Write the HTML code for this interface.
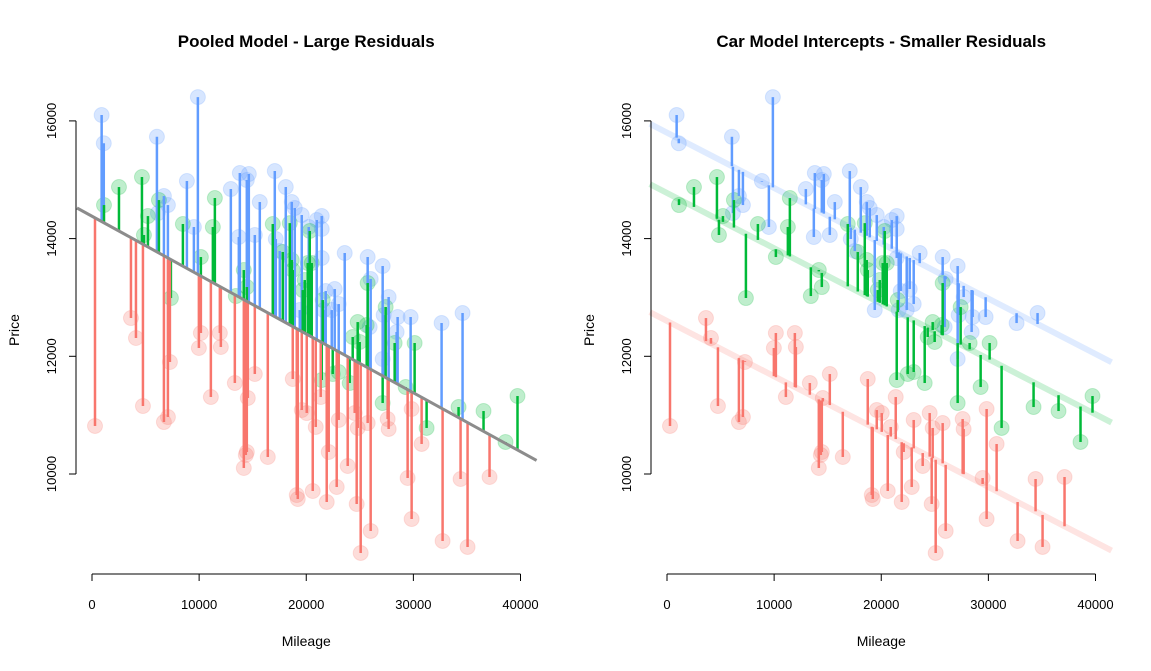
<!DOCTYPE html>
<html><head><meta charset="utf-8"><style>
body{margin:0;background:#fff;}
svg{display:block;font-family:"Liberation Sans",Arial,sans-serif;}
</style></head><body>
<svg id="chart" width="1151" height="671" viewBox="0 0 1151 671"></svg>
<script>
const blueMileage=[900,1100,6060,9883,8858,13800,14639,14452,12960,17063,18089,15664,18648,18928,19580,6713,7086,6154,9510,13706,15198,17156,17529,19394,20979,21445,21445,20233,21445,23590,25734,27133,26014,22657,21818,23030,27692,28531,29744,32634,34592,21631,22378,27226,25921,27133,28438];
const bluePrice=[16100,15620,15730,16405,14978,15114,15097,14995,14842,15148,14876,14621,14621,14519,14400,14723,14570,14434,14197,14027,14061,13993,13789,12786,14315,14383,14163,14197,13670,13755,13687,13534,13313,13143,13109,12888,13007,12667,12667,12565,12735,12786,12786,12701,12497,11954,12413];
const greenMileage=[1119,2517,4662,5221,4849,6247,11469,11282,8485,10163,7366,16876,18462,17809,18648,14172,14452,13427,18741,19674,20140,20326,20513,19860,25734,27413,24802,25641,21538,24336,24988,23030,24056,21445,27133,28252,30117,29278,31235,34219,36550,38601,39720,22471];
const greenPrice=[14570,14876,15046,14383,14061,14655,14689,14197,14248,13687,12990,14248,14264,13772,13636,13466,13177,13024,13466,13126,13585,14129,13585,13296,13245,12837,12582,12531,12956,12328,12243,11733,11546,11597,11206,12226,12226,11478,10782,11138,11070,10544,11325,11699];
const redMileage=[280,3636,4103,4755,6713,7086,7273,10163,9977,11935,12028,11096,13333,15198,14545,14452,14359,14172,16410,19114,19207,18741,19580,20047,20606,21911,22844,23870,22098,20886,23030,24709,25082,26014,24802,25734,24522,21352,27599,27692,29464,29837,29837,30770,32728,34406,35059,37110];
const redPrice=[10816,12650,12311,11155,10883,10968,11903,12396,12141,12396,12158,11308,11546,11699,11291,10374,10323,10102,10289,9643,9575,11614,11087,11036,9711,9524,9779,10136,10374,10799,10918,9490,8658,9032,10782,10866,11036,11308,10934,10765,9932,11104,9235,10510,8862,9915,8760,9949];
const pooledFit=[14380,-0.1];
const groupIntercepts=[15800,14775,12600];
const groupSlope=[-0.094];
const xTicks=[0,10000,20000,30000,40000];
const yTicks=[10000,12000,14000,16000];

const NS="http://www.w3.org/2000/svg";
const svg=document.getElementById('chart');
function mk(tag,attrs,parent){const e=document.createElementNS(NS,tag);for(const k in attrs)e.setAttribute(k,attrs[k]);(parent||svg).appendChild(e);return e;}
const colors={blue:'#619CFF',green:'#00BA38',red:'#F8766D'};
const groups=[
 {key:'blue',m:blueMileage,p:bluePrice,b:groupIntercepts[0]},
 {key:'green',m:greenMileage,p:greenPrice,b:groupIntercepts[1]},
 {key:'red',m:redMileage,p:redPrice,b:groupIntercepts[2]}];
const yS=v=>474-(v-10000)*117.7/2000;
function panel(x0,title,pooled,name){
 const g=mk('g',{});
 
 
 const xS=v=>x0+v*428.5/40000;
 const fit=(grp,m)=>pooled?pooledFit[0]+pooledFit[1]*m:grp.b+groupSlope[0]*m;
 if(!pooled){groups.forEach(grp=>{
  const l=mk('line',{x1:xS(-1600),y1:yS(fit(grp,-1600)),x2:xS(41500),y2:yS(fit(grp,41500)),stroke:colors[grp.key],'stroke-width':6,'stroke-opacity':0.2},g);
  
  
 });}
 groups.forEach(grp=>{grp.m.forEach((m,i)=>{
  const c=mk('circle',{cx:xS(m),cy:yS(grp.p[i]),r:7.5,fill:colors[grp.key],'fill-opacity':0.25,stroke:colors[grp.key],'stroke-opacity':0.2},g);
  
  
 });});
 groups.forEach(grp=>{grp.m.forEach((m,i)=>{
  const s=mk('line',{x1:xS(m),y1:yS(grp.p[i]),x2:xS(m),y2:yS(fit(grp,m)),stroke:colors[grp.key],'stroke-width':2.5},g);
  
  
 });});
 if(pooled){
  const l=mk('line',{x1:xS(-1400),y1:yS(fit(null,-1400)),x2:xS(41500),y2:yS(fit(null,41500)),stroke:'#8c8c8c','stroke-width':3},g);
  
  
 }
 const xa=mk('g',{},g);
 
 
 mk('line',{x1:xS(0),y1:574,x2:xS(40000),y2:574,stroke:'#000'},xa);
 xTicks.forEach(t=>{mk('line',{x1:xS(t),y1:574,x2:xS(t),y2:581,stroke:'#000'},xa);
  const tx=mk('text',{x:xS(t),y:609,'text-anchor':'middle','font-size':13},xa);tx.textContent=t;
  });
 const ya=mk('g',{},g);
 
 
 mk('line',{x1:x0-16,y1:yS(10000),x2:x0-16,y2:yS(16000),stroke:'#000'},ya);
 yTicks.forEach(t=>{mk('line',{x1:x0-16,y1:yS(t),x2:x0-23,y2:yS(t),stroke:'#000'},ya);
  const tx=mk('text',{x:x0-36,y:yS(t),'text-anchor':'middle','font-size':13,transform:`rotate(-90 ${x0-36} ${yS(t)})`},ya);tx.textContent=t;
  });
 const xt=mk('text',{x:xS(20000),y:646,'text-anchor':'middle','font-size':14},g);xt.textContent='Mileage';
 
 const yt=mk('text',{x:x0-73,y:330,'text-anchor':'middle','font-size':14,transform:`rotate(-90 ${x0-73} 330)`},g);yt.textContent='Price';
 
 const tt=mk('text',{x:xS(20000),y:47,'text-anchor':'middle','font-size':17,'font-weight':'bold'},g);tt.textContent=title;
 
}
panel(92,'Pooled Model - Large Residuals',true,'pooled-panel');
panel(667,'Car Model Intercepts - Smaller Residuals',false,'intercepts-panel');
</script>
</body></html>
